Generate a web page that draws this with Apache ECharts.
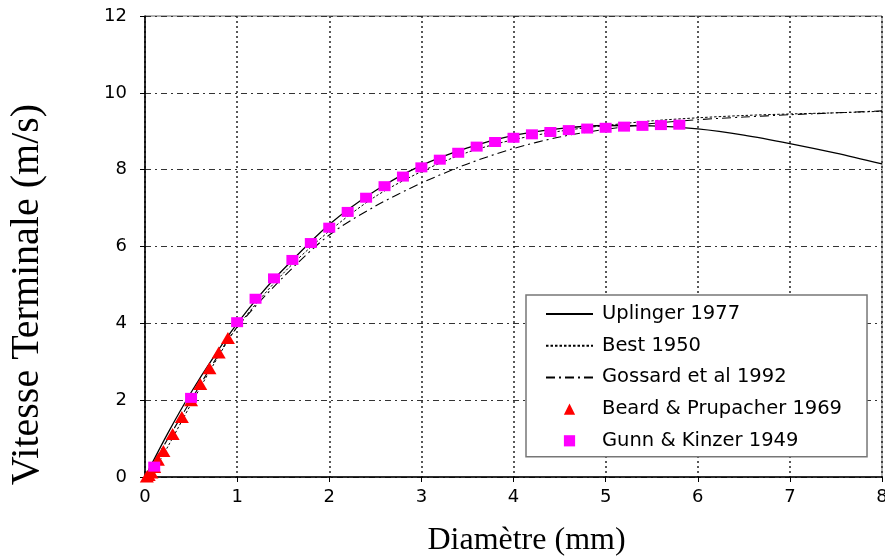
<!DOCTYPE html>
<html>
<head>
<meta charset="utf-8">
<script src="https://cdn.jsdelivr.net/npm/echarts@6/dist/echarts.min.js"></script>
<style>html,body{margin:0;padding:0;background:#fff}#c{width:885px;height:558px}</style>
</head>
<body>
<div id="c"></div>
<script>
// Tick labels
const xTicks = [0, 1, 2, 3, 4, 5, 6, 7, 8];
const yTicks = [0, 2, 4, 6, 8, 10, 12];

// Uplinger 1977 (solid)
const uplingerX = [0, 0.25, 0.5, 0.75, 1, 1.25, 1.5, 2, 2.5, 3, 3.5, 4, 4.5, 5, 5.5, 6, 6.5, 7, 7.5, 8];
const uplingerY = [0, 1.15, 2.20, 3.14, 3.99, 4.74, 5.40, 6.57, 7.45, 8.11, 8.57, 8.89, 9.07, 9.15, 9.14, 9.06, 8.90, 8.68, 8.43, 8.15];

// Best 1950 (dotted)
const bestX = [0, 0.1, 0.25, 0.5, 0.75, 1, 1.5, 2, 2.5, 3, 3.5, 4, 4.5, 5, 5.5, 6, 6.5, 7, 7.5, 8];
const bestY = [0, 0.2, 0.8, 1.9, 2.95, 3.9, 5.3, 6.4, 7.3, 7.95, 8.45, 8.78, 9.0, 9.15, 9.27, 9.35, 9.41, 9.45, 9.48, 9.52];

// Gossard et al 1992 (dash-dot)
const gossardX = [0, 0.25, 0.5, 0.75, 1, 1.5, 2, 2.5, 3, 3.5, 4, 4.5, 5, 5.5, 6, 6.5, 7, 7.5, 8];
const gossardY = [0, 1.0, 2.0, 3.0, 3.9, 5.2, 6.3, 7.05, 7.65, 8.15, 8.55, 8.85, 9.05, 9.2, 9.3, 9.37, 9.43, 9.48, 9.53];

// Beard & Prupacher 1969 (triangles)
const beardX = [0.02, 0.04, 0.07, 0.1, 0.14, 0.2, 0.3, 0.4, 0.5, 0.6, 0.7, 0.8, 0.9];
const beardY = [0.01, 0.05, 0.12, 0.26, 0.45, 0.68, 1.12, 1.56, 2.0, 2.42, 2.83, 3.24, 3.62];

// Gunn & Kinzer 1949 (squares)
const gunnX = [0.1, 0.5, 1.0, 1.2, 1.4, 1.6, 1.8, 2.0, 2.2, 2.4, 2.6, 2.8, 3.0, 3.2, 3.4, 3.6, 3.8, 4.0, 4.2, 4.4, 4.6, 4.8, 5.0, 5.2, 5.4, 5.6, 5.8];
const gunnY = [0.27, 2.06, 4.03, 4.64, 5.17, 5.65, 6.09, 6.49, 6.90, 7.27, 7.57, 7.82, 8.06, 8.26, 8.44, 8.60, 8.72, 8.83, 8.92, 8.98, 9.03, 9.07, 9.09, 9.12, 9.14, 9.16, 9.17];

const zip = (xs, ys) => xs.map((x, i) => [x, ys[i]]);

const chart = echarts.init(document.getElementById('c'), null, {renderer: 'canvas'});
const tickFont = {fontFamily: 'DejaVu Sans', fontSize: 18, color: '#000'};
const invisible = {color: 'rgba(0,0,0,0)', borderColor: 'rgba(0,0,0,0)', borderWidth: 0};

chart.setOption({
  animation: false,
  backgroundColor: '#fff',
  grid: {left: 145, right: 3, top: 16, bottom: 81, show: true, borderColor: '#666', borderWidth: 1, outerBoundsMode: 'none', containLabel: false},
  xAxis: {
    type: 'value', min: xTicks[0], max: xTicks[xTicks.length - 1], interval: 1,
    name: 'Diamètre (mm)', nameLocation: 'middle', nameGap: 48,
    nameTextStyle: {fontFamily: 'Liberation Serif', fontSize: 32, color: '#000', padding: [0, 0, 0, 26]},
    axisLine: {onZero: false, lineStyle: {color: '#000', width: 1.5}},
    axisTick: {show: true, length: 5, lineStyle: {color: '#000'}},
    axisLabel: Object.assign({margin: 11}, tickFont),
    splitLine: {show: true, lineStyle: {color: '#222', width: 1.5, type: [2, 3]}}
  },
  yAxis: {
    type: 'value', min: yTicks[0], max: yTicks[yTicks.length - 1], interval: 2,
    name: 'Vitesse Terminale (m/s)', nameLocation: 'middle', nameGap: 98,
    nameTextStyle: {fontFamily: 'Liberation Serif', fontSize: 40, color: '#000', padding: [0, 96, 0, 0]},
    axisLine: {show: true, onZero: false, lineStyle: {color: '#000', width: 1.5}},
    axisTick: {show: true, length: 5, lineStyle: {color: '#000'}},
    axisLabel: Object.assign({margin: 18}, tickFont),
    splitLine: {show: true, lineStyle: {color: '#333', width: 1, type: [6, 4, 2, 4]}}
  },
  legend: {
    orient: 'vertical', left: 526, top: 295,
    padding: [9, 25, 6, 19],
    itemWidth: 47, itemHeight: 14, itemGap: 11.7,
    borderColor: '#777', borderWidth: 1.5, backgroundColor: '#fff',
    textStyle: {fontFamily: 'DejaVu Sans', fontSize: 19.5, lineHeight: 19, color: '#000', padding: [0, 0, 0, 4]},
    data: ['Uplinger 1977', 'Best 1950', 'Gossard et al 1992', 'Beard & Prupacher 1969', 'Gunn & Kinzer 1949']
  },
  series: [
    {
      name: 'Uplinger 1977', type: 'line', data: zip(uplingerX, uplingerY), smooth: 0.3,
      symbol: 'none', itemStyle: invisible,
      lineStyle: {color: '#000', width: 1.3, type: 'solid'}, z: 3
    },
    {
      name: 'Best 1950', type: 'line', data: zip(bestX, bestY), smooth: 0.3,
      symbol: 'none', itemStyle: invisible,
      lineStyle: {color: '#000', width: 1, type: [2.5, 2]}, z: 3
    },
    {
      name: 'Gossard et al 1992', type: 'line', data: zip(gossardX, gossardY), smooth: 0.3,
      symbol: 'none', itemStyle: invisible,
      lineStyle: {color: '#000', width: 1.1, type: [9, 4, 2, 4]}, z: 3
    },
    {
      name: 'Beard & Prupacher 1969', type: 'line', data: zip(beardX, beardY),
      symbol: 'triangle', symbolSize: [14, 12], showAllSymbol: true,
      itemStyle: {color: '#ff0000'},
      lineStyle: {width: 0, opacity: 0}, z: 5
    },
    {
      name: 'Gunn & Kinzer 1949', type: 'line', data: zip(gunnX, gunnY),
      symbol: 'rect', symbolSize: [12, 10], showAllSymbol: true,
      itemStyle: {color: '#ff00ff'},
      lineStyle: {width: 0, opacity: 0}, z: 6
    }
  ]
});
</script>
</body>
</html>
